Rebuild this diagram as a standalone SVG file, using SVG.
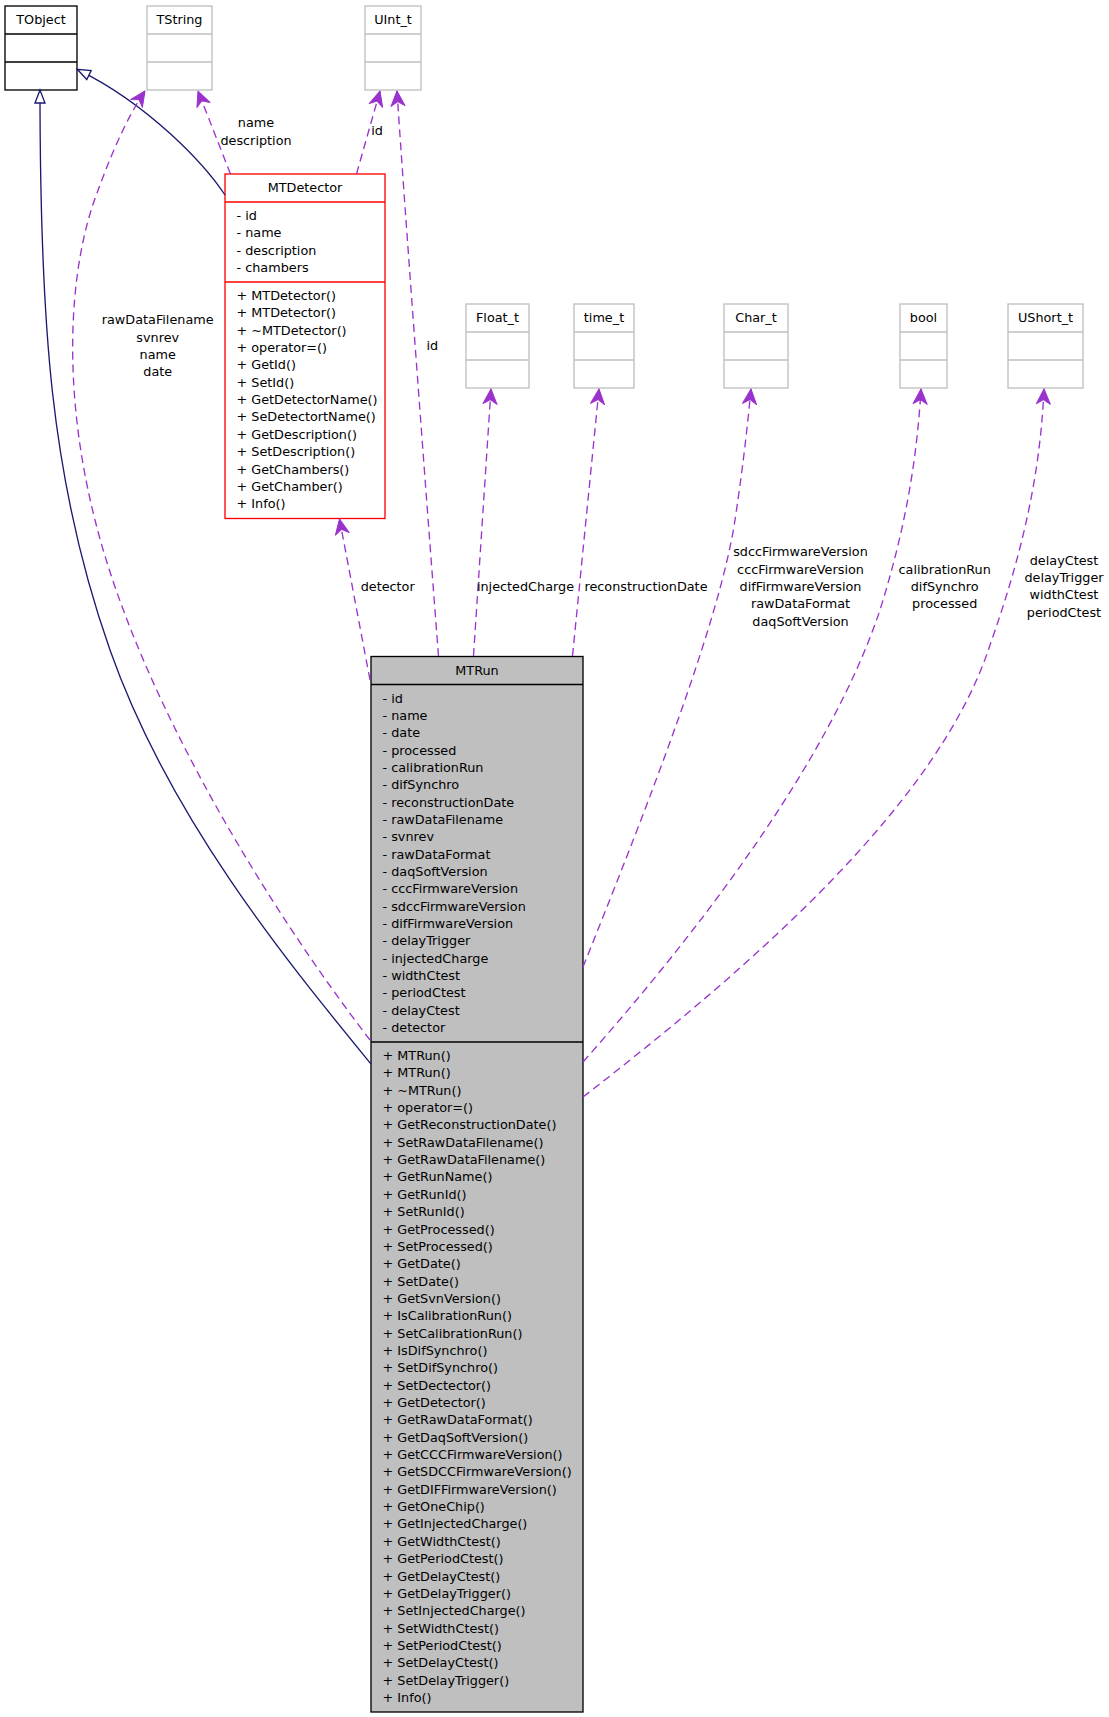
<svg xmlns="http://www.w3.org/2000/svg" width="1109" height="1717" viewBox="0 0 1109 1717">
<style>
text { font-family: "DejaVu Sans", "Liberation Sans", sans-serif; font-size: 12.8px; fill: #000; }
.c { text-anchor: middle; }
.gray rect, .gray line { fill: none; stroke: #bfbfbf; stroke-width: 1.33; }
.gray rect { fill: #fff; }
.blk rect { fill: #fff; stroke: #000; stroke-width: 1.33; }
.blk line { stroke: #000; stroke-width: 1.33; }
.red rect { fill: #fff; stroke: #ff0000; stroke-width: 1.33; }
.red line { stroke: #ff0000; stroke-width: 1.33; }
.run rect { fill: #bfbfbf; stroke: #000; stroke-width: 1.33; }
.run line { stroke: #000; stroke-width: 1.33; }
.inh { fill: none; stroke: #191970; stroke-width: 1.33; marker-end: url(#tri); }
.use { fill: none; stroke: #9a32cd; stroke-width: 1.33; stroke-dasharray: 8,5; marker-end: url(#vee); }
</style>
<defs>
<marker id="tri" viewBox="-15 -7 17 14" markerWidth="17" markerHeight="14" refX="0" refY="0" orient="auto" markerUnits="userSpaceOnUse" overflow="visible">
<path d="M0,0 L-13,-5 L-13,5 Z" fill="#fff" stroke="#191970" stroke-width="1.33"/>
</marker>
<marker id="vee" viewBox="-17 -9 18 18" markerWidth="18" markerHeight="18" refX="0" refY="0" orient="auto" markerUnits="userSpaceOnUse" overflow="visible">
<path d="M0,0 L-15,-7 L-10.5,0 L-15,7 Z" fill="#9a32cd" stroke="#9a32cd" stroke-width="1" stroke-linejoin="round"/>
</marker>
</defs>

<g id="TObject" class="blk">
<rect x="5" y="6" width="72" height="84"/>
<line x1="5" y1="34" x2="77" y2="34"/>
<line x1="5" y1="62" x2="77" y2="62"/>
<text class="c" x="41" y="24">TObject</text>
</g>

<g id="TString" class="gray">
<rect x="147" y="6" width="65" height="84"/>
<line x1="147" y1="34" x2="212" y2="34"/>
<line x1="147" y1="62" x2="212" y2="62"/>
<text class="c" x="179.5" y="24">TString</text>
</g>

<g id="UInt_t" class="gray">
<rect x="365" y="6" width="56" height="84"/>
<line x1="365" y1="34" x2="421" y2="34"/>
<line x1="365" y1="62" x2="421" y2="62"/>
<text class="c" x="393" y="24">UInt_t</text>
</g>

<g id="MTDetector" class="red">
<rect x="225" y="174" width="160" height="344.5"/>
<line x1="225" y1="202" x2="385" y2="202"/>
<line x1="225" y1="282" x2="385" y2="282"/>
<text class="c" x="305" y="192">MTDetector</text>
<text x="236.5" y="220">
<tspan x="236.5">- id</tspan>
<tspan x="236.5" dy="17.35">- name</tspan>
<tspan x="236.5" dy="17.35">- description</tspan>
<tspan x="236.5" dy="17.35">- chambers</tspan>
</text>
<text x="236.5" y="300">
<tspan x="236.5">+ MTDetector()</tspan>
<tspan x="236.5" dy="17.35">+ MTDetector()</tspan>
<tspan x="236.5" dy="17.35">+ ~MTDetector()</tspan>
<tspan x="236.5" dy="17.35">+ operator=()</tspan>
<tspan x="236.5" dy="17.35">+ GetId()</tspan>
<tspan x="236.5" dy="17.35">+ SetId()</tspan>
<tspan x="236.5" dy="17.35">+ GetDetectorName()</tspan>
<tspan x="236.5" dy="17.35">+ SeDetectortName()</tspan>
<tspan x="236.5" dy="17.35">+ GetDescription()</tspan>
<tspan x="236.5" dy="17.35">+ SetDescription()</tspan>
<tspan x="236.5" dy="17.35">+ GetChambers()</tspan>
<tspan x="236.5" dy="17.35">+ GetChamber()</tspan>
<tspan x="236.5" dy="17.35">+ Info()</tspan>
</text>
</g>

<g id="Float_t" class="gray">
<rect x="466" y="304" width="63" height="84"/>
<line x1="466" y1="332" x2="529" y2="332"/>
<line x1="466" y1="360" x2="529" y2="360"/>
<text class="c" x="497.5" y="322">Float_t</text>
</g>

<g id="time_t" class="gray">
<rect x="574" y="304" width="60" height="84"/>
<line x1="574" y1="332" x2="634" y2="332"/>
<line x1="574" y1="360" x2="634" y2="360"/>
<text class="c" x="604" y="322">time_t</text>
</g>

<g id="Char_t" class="gray">
<rect x="724" y="304" width="64" height="84"/>
<line x1="724" y1="332" x2="788" y2="332"/>
<line x1="724" y1="360" x2="788" y2="360"/>
<text class="c" x="756" y="322">Char_t</text>
</g>

<g id="bool" class="gray">
<rect x="900" y="304" width="47" height="84"/>
<line x1="900" y1="332" x2="947" y2="332"/>
<line x1="900" y1="360" x2="947" y2="360"/>
<text class="c" x="923.5" y="322">bool</text>
</g>

<g id="UShort_t" class="gray">
<rect x="1008" y="304" width="75" height="84"/>
<line x1="1008" y1="332" x2="1083" y2="332"/>
<line x1="1008" y1="360" x2="1083" y2="360"/>
<text class="c" x="1045.5" y="322">UShort_t</text>
</g>

<g id="MTRun" class="run">
<rect x="371" y="656.5" width="212" height="1055.5"/>
<line x1="371" y1="684.5" x2="583" y2="684.5"/>
<line x1="371" y1="1042" x2="583" y2="1042"/>
<text class="c" x="477" y="674.5">MTRun</text>
<text x="382.5" y="702.5">
<tspan x="382.5">- id</tspan>
<tspan x="382.5" dy="17.35">- name</tspan>
<tspan x="382.5" dy="17.35">- date</tspan>
<tspan x="382.5" dy="17.35">- processed</tspan>
<tspan x="382.5" dy="17.35">- calibrationRun</tspan>
<tspan x="382.5" dy="17.35">- difSynchro</tspan>
<tspan x="382.5" dy="17.35">- reconstructionDate</tspan>
<tspan x="382.5" dy="17.35">- rawDataFilename</tspan>
<tspan x="382.5" dy="17.35">- svnrev</tspan>
<tspan x="382.5" dy="17.35">- rawDataFormat</tspan>
<tspan x="382.5" dy="17.35">- daqSoftVersion</tspan>
<tspan x="382.5" dy="17.35">- cccFirmwareVersion</tspan>
<tspan x="382.5" dy="17.35">- sdccFirmwareVersion</tspan>
<tspan x="382.5" dy="17.35">- difFirmwareVersion</tspan>
<tspan x="382.5" dy="17.35">- delayTrigger</tspan>
<tspan x="382.5" dy="17.35">- injectedCharge</tspan>
<tspan x="382.5" dy="17.35">- widthCtest</tspan>
<tspan x="382.5" dy="17.35">- periodCtest</tspan>
<tspan x="382.5" dy="17.35">- delayCtest</tspan>
<tspan x="382.5" dy="17.35">- detector</tspan>
</text>
<text x="382.5" y="1060">
<tspan x="382.5">+ MTRun()</tspan>
<tspan x="382.5" dy="17.35">+ MTRun()</tspan>
<tspan x="382.5" dy="17.35">+ ~MTRun()</tspan>
<tspan x="382.5" dy="17.35">+ operator=()</tspan>
<tspan x="382.5" dy="17.35">+ GetReconstructionDate()</tspan>
<tspan x="382.5" dy="17.35">+ SetRawDataFilename()</tspan>
<tspan x="382.5" dy="17.35">+ GetRawDataFilename()</tspan>
<tspan x="382.5" dy="17.35">+ GetRunName()</tspan>
<tspan x="382.5" dy="17.35">+ GetRunId()</tspan>
<tspan x="382.5" dy="17.35">+ SetRunId()</tspan>
<tspan x="382.5" dy="17.35">+ GetProcessed()</tspan>
<tspan x="382.5" dy="17.35">+ SetProcessed()</tspan>
<tspan x="382.5" dy="17.35">+ GetDate()</tspan>
<tspan x="382.5" dy="17.35">+ SetDate()</tspan>
<tspan x="382.5" dy="17.35">+ GetSvnVersion()</tspan>
<tspan x="382.5" dy="17.35">+ IsCalibrationRun()</tspan>
<tspan x="382.5" dy="17.35">+ SetCalibrationRun()</tspan>
<tspan x="382.5" dy="17.35">+ IsDifSynchro()</tspan>
<tspan x="382.5" dy="17.35">+ SetDifSynchro()</tspan>
<tspan x="382.5" dy="17.35">+ SetDectector()</tspan>
<tspan x="382.5" dy="17.35">+ GetDetector()</tspan>
<tspan x="382.5" dy="17.35">+ GetRawDataFormat()</tspan>
<tspan x="382.5" dy="17.35">+ GetDaqSoftVersion()</tspan>
<tspan x="382.5" dy="17.35">+ GetCCCFirmwareVersion()</tspan>
<tspan x="382.5" dy="17.35">+ GetSDCCFirmwareVersion()</tspan>
<tspan x="382.5" dy="17.35">+ GetDIFFirmwareVersion()</tspan>
<tspan x="382.5" dy="17.35">+ GetOneChip()</tspan>
<tspan x="382.5" dy="17.35">+ GetInjectedCharge()</tspan>
<tspan x="382.5" dy="17.35">+ GetWidthCtest()</tspan>
<tspan x="382.5" dy="17.35">+ GetPeriodCtest()</tspan>
<tspan x="382.5" dy="17.35">+ GetDelayCtest()</tspan>
<tspan x="382.5" dy="17.35">+ GetDelayTrigger()</tspan>
<tspan x="382.5" dy="17.35">+ SetInjectedCharge()</tspan>
<tspan x="382.5" dy="17.35">+ SetWidthCtest()</tspan>
<tspan x="382.5" dy="17.35">+ SetPeriodCtest()</tspan>
<tspan x="382.5" dy="17.35">+ SetDelayCtest()</tspan>
<tspan x="382.5" dy="17.35">+ SetDelayTrigger()</tspan>
<tspan x="382.5" dy="17.35">+ Info()</tspan>
</text>
</g>

<g id="connectors">
<path class="inh" d="M371,1064 C 290,965 170,820 110,650 C 50,480 40,320 40,90"/>
<path class="inh" d="M225,195 C 205,165 150,105 77.3,69.3"/>
<path class="use" d="M230.5,174 L 198,91"/>
<path class="use" d="M356.5,174 L 380,91"/>
<path class="use" d="M438.5,656 C 431,560 404,200 397,91"/>
<path class="use" d="M370,1040 C 270,910 140,700 95,520 C 62,390 68,270 97,193 C 108,163 124,122 145,91"/>
<path class="use" d="M370,680 L 339.5,519"/>
<path class="use" d="M473.5,656 L 491,389"/>
<path class="use" d="M572.5,656 L 599,389"/>
<path class="use" d="M583,967 C 650,800 720,620 735,520 C 744,460 748,420 751,389"/>
<path class="use" d="M583,1062 C 700,930 830,760 880,610 C 905,530 917,460 921,389"/>
<path class="use" d="M583,1097 C 760,960 940,800 990,645 C 1020,560 1040,480 1044,389"/>

<text class="c" x="256" y="127.3"><tspan x="256">name</tspan><tspan x="256" dy="17.35">description</tspan></text>
<text class="c" x="377" y="135">id</text>
<text class="c" x="157.7" y="324.3"><tspan x="157.7">rawDataFilename</tspan><tspan x="157.7" dy="17.35">svnrev</tspan><tspan x="157.7" dy="17.35">name</tspan><tspan x="157.7" dy="17.35">date</tspan></text>
<text class="c" x="432.3" y="350">id</text>
<text class="c" x="387.7" y="591">detector</text>
<text class="c" x="525.5" y="591">injectedCharge</text>
<text class="c" x="646" y="591">reconstructionDate</text>
<text class="c" x="800.5" y="556.3"><tspan x="800.5">sdccFirmwareVersion</tspan><tspan x="800.5" dy="17.35">cccFirmwareVersion</tspan><tspan x="800.5" dy="17.35">difFirmwareVersion</tspan><tspan x="800.5" dy="17.35">rawDataFormat</tspan><tspan x="800.5" dy="17.35">daqSoftVersion</tspan></text>
<text class="c" x="944.7" y="573.7"><tspan x="944.7">calibrationRun</tspan><tspan x="944.7" dy="17.35">difSynchro</tspan><tspan x="944.7" dy="17.35">processed</tspan></text>
<text class="c" x="1064" y="564.5"><tspan x="1064">delayCtest</tspan><tspan x="1064" dy="17.35">delayTrigger</tspan><tspan x="1064" dy="17.35">widthCtest</tspan><tspan x="1064" dy="17.35">periodCtest</tspan></text>
</g>
</svg>
